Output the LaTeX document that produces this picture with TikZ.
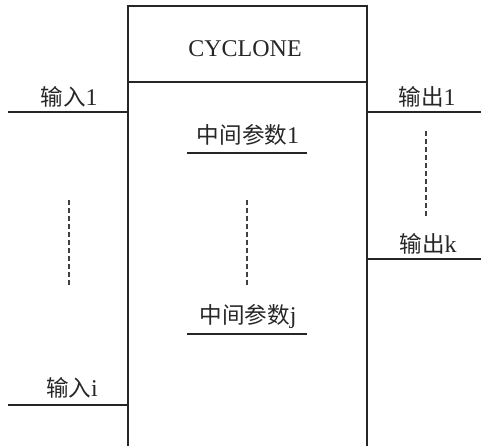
\documentclass[tikz,border=0pt]{standalone}
\usepackage{fontspec}
\setmainfont{Liberation Serif}
\newfontfamily\cjk{Noto Sans CJK SC}[Scale=0.94]
\begin{document}
\begin{tikzpicture}[x=1pt,y=-1pt,
  ln/.style={line width=1.2pt,black!85},
  dsh/.style={line width=1.2pt,black!75,dash pattern=on 5pt off 3pt},
  lbl/.style={inner sep=0pt,font=\fontsize{24}{28}\selectfont,text=black!85}]
\useasboundingbox (0,0) rectangle (481,445);
% box
\coordinate (bl) at (128,446);
\coordinate (tl) at (128,6);
\coordinate (tr) at (367,6);
\coordinate (br) at (367,446);
\coordinate (dl) at (128,82);
\coordinate (dr) at (367,82);
\draw[ln] (bl) -- (tl) -- (tr) -- (br);
\draw[ln] (dl) -- (dr);
\node[lbl] (title) at (245,49) {CYCLONE};
% inputs
\coordinate (i1s) at (8,112);
\coordinate (i1e) at (128,112);
\coordinate (iis) at (8,405);
\coordinate (iie) at (128,405);
\draw[ln] (i1s) -- (i1e);
\draw[ln] (iis) -- (iie);
\node[lbl] (in1) at (69,97) {{\cjk 输入}1};
\node[lbl] (ini) at (72,388) {{\cjk 输入}i};
% outputs
\coordinate (o1s) at (367,112);
\coordinate (o1e) at (481,112);
\coordinate (oks) at (367,259);
\coordinate (oke) at (481,259);
\draw[ln] (o1s) -- (o1e);
\draw[ln] (oks) -- (oke);
\node[lbl] (out1) at (427,97) {{\cjk 输出}1};
\node[lbl] (outk) at (428,244) {{\cjk 输出}k};
% intermediate params
\node[lbl] (p1) at (248,135) {{\cjk 中间参数}1};
\node[lbl] (pj) at (248,317) {{\cjk 中间参数}j};
\coordinate (u1a) at (187,153);
\coordinate (u1b) at (307,153);
\coordinate (uja) at (187,334);
\coordinate (ujb) at (307,334);
\draw[ln] (u1a) -- (u1b);
\draw[ln] (uja) -- (ujb);
% dashed
\coordinate (dla) at (69,200);
\coordinate (dlb) at (69,286);
\coordinate (dma) at (247,200);
\coordinate (dmb) at (247,286);
\coordinate (dra) at (426,131);
\coordinate (drb) at (426,216);
\draw[dsh] (dla) -- (dlb);
\draw[dsh] (dma) -- (dmb);
\draw[dsh] (dra) -- (drb);
\end{tikzpicture}
\end{document}
